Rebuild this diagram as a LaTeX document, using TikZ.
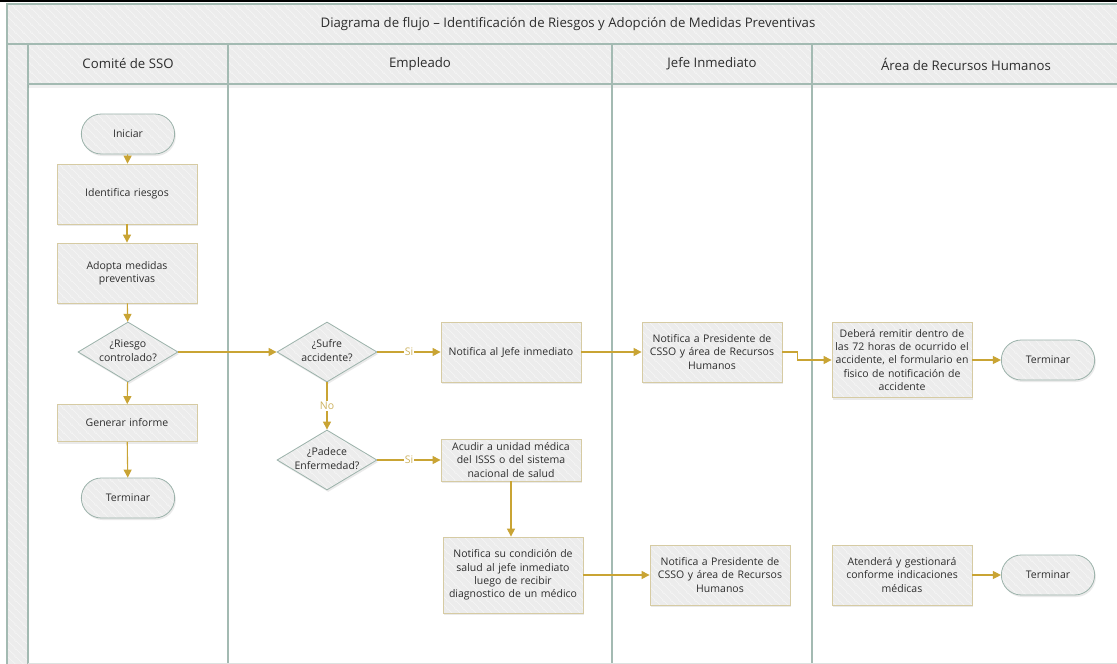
\documentclass[tikz,border=0pt]{standalone}
\usepackage{fontspec}
\setmainfont{Open Sans}
\usetikzlibrary{shapes.geometric,shapes.misc,arrows.meta,patterns.meta,shadows}

\definecolor{lanefill}{RGB}{236,236,236}
\definecolor{laneline}{RGB}{163,186,178}
\definecolor{boxline}{RGB}{214,203,163}
\definecolor{shapeline}{RGB}{155,178,170}
\definecolor{flow}{RGB}{201,164,52}
\definecolor{flowlbl}{RGB}{205,178,95}
\definecolor{txt}{RGB}{45,45,45}

% fine diagonal hatching used on every filled surface
\tikzdeclarepattern{
  name=hatch,
  type=uncolored,
  bounding box={(0pt,0pt) and (8pt,8pt)},
  tile size={(8pt,8pt)},
  code={
    \draw[line width=0.4pt] (-1pt,9pt) -- (9pt,-1pt);
    \draw[line width=0.4pt] (-1pt,1pt) -- (1pt,-1pt);
    \draw[line width=0.4pt] (7pt,9pt) -- (9pt,7pt);
  }
}

% multi-line text that does not widen a diamond
\newcommand\dlines[1]{\makebox[0pt]{\begin{tabular}{@{}c@{}}#1\end{tabular}}}

\tikzset{
  surface/.style={preaction={fill=lanefill},
    preaction={pattern=hatch, pattern color=white!70!lanefill}},
  base/.style={drop shadow={shadow xshift=1.2pt, shadow yshift=-2pt, opacity=0.16},
    surface, font=\fontsize{10.5}{13.4}\selectfont, text=txt, align=center},
  proc/.style={base, rectangle, draw=boxline, line width=0.8pt,
    minimum width=140pt, minimum height=60pt, text width=136pt, inner sep=2pt},
  term/.style={base, rounded rectangle, draw=shapeline, line width=0.8pt,
    minimum width=100pt, minimum height=40pt},
  decision/.style={base, diamond, draw=shapeline, line width=0.8pt,
    minimum width=100pt, minimum height=60pt, inner sep=0pt},
  flowline/.style={draw=flow, line width=1.1pt, -{Triangle[length=8pt,width=8pt]}},
  lbl/.style={font=\fontsize{10.5}{12}\selectfont, text=flowlbl, fill=white, inner sep=1.2pt},
  lane/.style={surface, draw=laneline, line width=1.2pt},
  lanetitle/.style={font=\fontsize{13.2}{15}\selectfont, text=txt},
}

\begin{document}
\begin{tikzpicture}[x=1pt, y=-1pt]
\useasboundingbox (0,0) rectangle (1117,664);

% ---- pool frame ----
\fill[white] (0,0) rectangle (1117,664);
\draw[black, line width=2pt] (0,1) -- (1117,1);
\path[lane] (7,4) rectangle (1130,44);
\path[lane] (7,44) rectangle (28,670);
\path[lane] (28,44) rectangle (228,84);
\path[lane] (228,44) rectangle (612,84);
\path[lane] (612,44) rectangle (812,84);
\path[lane] (812,44) rectangle (1130,84);
\fill[black, opacity=0.06] (28,85) rectangle (1117,88);
\foreach \xx in {228,612,812}
  \draw[laneline, line width=1.2pt] (\xx,84) -- (\xx,664);
\draw[lanefill!80!laneline, line width=1pt] (28,663) -- (1117,663);

\node[lanetitle] (title) at (568,24) {Diagrama de flujo – Identificación de Riesgos y Adopción de Medidas Preventivas};
\node[lanetitle] (h1) at (128,64) {Comité de SSO};
\node[lanetitle] (h2) at (420,64) {Empleado};
\node[lanetitle] (h3) at (712,64) {Jefe Inmediato};
\node[lanetitle] (h4) at (966,64) {Área de Recursos Humanos};

% ---- Comité de SSO ----
\node[term] (ini) at (128,134) {Iniciar};
\node[proc] (ide) at (127,194) {Identifica riesgos};
\node[proc] (ado) at (127,273) {Adopta medidas\\preventivas};
\node[decision] (rc) at (128,352) {\dlines{¿Riesgo\\controlado?}};
\node[proc, minimum height=37pt] (gen) at (127,423) {Generar informe};
\node[term] (ter1) at (128,498) {Terminar};

% ---- Empleado ----
\node[decision] (sa) at (327,352) {\dlines{¿Sufre\\accidente?}};
\node[proc] (nj) at (511,352) {Notifica al Jefe inmediato};
\node[decision] (pe) at (327,460) {\dlines{¿Padece\\Enfermedad?}};
\node[proc, minimum height=42pt] (ac) at (511,460) {Acudir a unidad médica\\del ISSS o del sistema\\nacional de salud};
\node[proc, minimum height=76pt] (ns) at (513,575) {Notifica su condición de\\salud al jefe inmediato\\luego de recibir\\diagnostico de un médico};

% ---- Jefe Inmediato ----
\node[proc] (np1) at (712,352) {Notifica a Presidente de\\CSSO y área de Recursos\\Humanos};
\node[proc] (np2) at (720,575) {Notifica a Presidente de\\CSSO y área de Recursos\\Humanos};

% ---- Área de Recursos Humanos ----
\node[proc, minimum height=75pt] (dr) at (902,360) {Deberá remitir dentro de\\las 72 horas de ocurrido el\\accidente, el formulario en\\fisico de notificación de\\accidente};
\node[term] (ter2) at (1048,360) {Terminar};
\node[proc] (at) at (902,575) {Atenderá y gestionará\\conforme indicaciones\\médicas};
\node[term] (ter3) at (1048,575) {Terminar};

% ---- connectors ----
\draw[flowline] (ini) -- (ide);
\draw[flowline] (ide) -- (ado);
\draw[flowline] (ado) -- (rc);
\draw[flowline] (rc) -- (gen);
\draw[flowline] (gen) -- (ter1);
\draw[flowline] (rc) -- (sa);
\draw[flowline] (sa) -- node[lbl] {Si} (nj);
\draw[flowline] (sa) -- node[lbl] {No} (pe);
\draw[flowline] (pe) -- node[lbl] {Si} (ac);
\draw[flowline] (ac.south) -- (ac.south |- ns.north);
\draw[flowline] (nj) -- (np1);
\draw[flowline] (np1.east) -- ++(15,0) |- (dr.west);
\draw[flowline] (dr) -- (ter2);
\draw[flowline] (ns) -- (np2);
\draw[flowline] (at) -- (ter3);
\end{tikzpicture}
\end{document}
